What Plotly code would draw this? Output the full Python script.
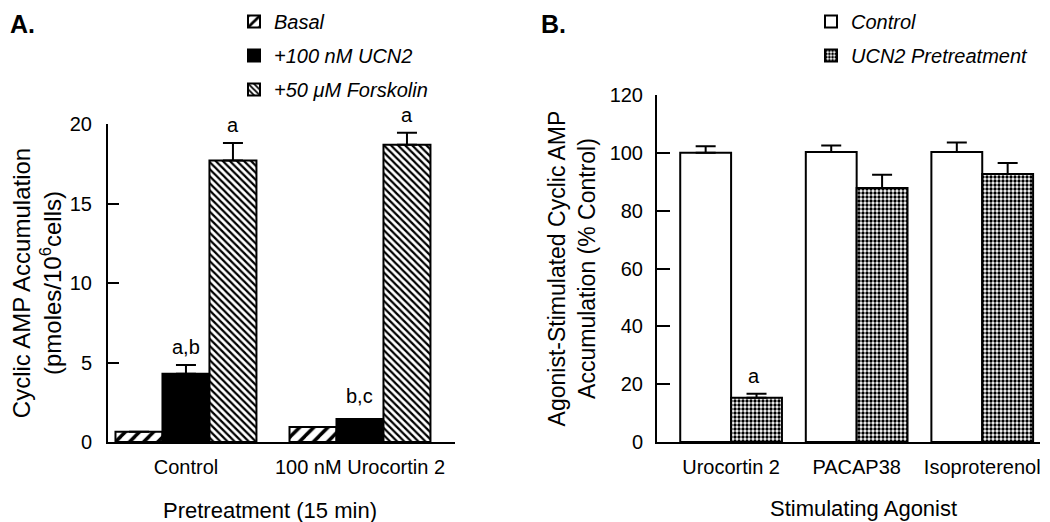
import plotly.graph_objects as go

# ---------------- Data ----------------
# Panel A
pretreat = ["Control", "100 nM Urocortin 2"]
basal = [0.65, 0.95]
basal_err = [0.0, 0.0]
ucn2 = [4.3, 1.45]
ucn2_err = [0.55, 0.0]
forsk = [17.7, 18.7]
forsk_err = [1.1, 0.75]
labels_a = [("a,b", "Control", "ucn2"), ("a", "Control", "forsk"),
            ("b,c", "100 nM Urocortin 2", "ucn2"), ("a", "100 nM Urocortin 2", "forsk")]

# Panel B
agonists = ["Urocortin 2", "PACAP38", "Isoproterenol"]
ctrl = [100.0, 100.3, 100.3]
ctrl_err = [2.3, 2.2, 3.3]
pre = [15.3, 87.8, 92.7]
pre_err = [1.4, 4.6, 3.8]
labels_b = [("a", "Urocortin 2")]

FONT = "Liberation Sans, Arial, sans-serif"
OFF = 8                      # page body margin of the browser
W, H = 1050 - OFF, 522 - OFF


def px(x):
    """screen x pixel -> paper fraction"""
    return (x - OFF) / W


def py(y):
    """screen y pixel -> paper fraction"""
    return 1 - (y - OFF) / H


fig = go.Figure()


def up_err(e):
    return dict(type="data", array=e, arrayminus=[0] * len(e), symmetric=False,
                color="black", thickness=2, width=10, visible=True)


line = dict(color="black", width=2)

fig.add_trace(go.Bar(x=pretreat, y=basal, name="Basal", xaxis="x", yaxis="y",
                     marker=dict(color="white", line=line,
                                 pattern=dict(shape="/", fgcolor="black", bgcolor="white",
                                              size=10, solidity=0.35)),
                     error_y=up_err(basal_err), legend="legend", legendgroup="a1"))
fig.add_trace(go.Bar(x=pretreat, y=ucn2, name="+100 nM UCN2", xaxis="x", yaxis="y",
                     marker=dict(color="black", line=line),
                     error_y=up_err(ucn2_err), legend="legend", legendgroup="a2"))
fig.add_trace(go.Bar(x=pretreat, y=forsk, name="+50 \u03bcM Forskolin", xaxis="x", yaxis="y",
                     marker=dict(color="white", line=line,
                                 pattern=dict(shape="\\", fgcolor="black", bgcolor="white",
                                              size=5, solidity=0.45)),
                     error_y=up_err(forsk_err), legend="legend", legendgroup="a3"))

fig.add_trace(go.Bar(x=agonists, y=ctrl, name="Control", xaxis="x2", yaxis="y2",
                     marker=dict(color="white", line=line),
                     error_y=up_err(ctrl_err), legend="legend2", legendgroup="b1"))
fig.add_trace(go.Bar(x=agonists, y=pre, name="UCN2 Pretreatment", xaxis="x2", yaxis="y2",
                     marker=dict(color="white", line=line,
                                 pattern=dict(shape=".", fgcolor="black", bgcolor="white",
                                              size=4, solidity=0.55)),
                     error_y=up_err(pre_err), legend="legend2", legendgroup="b2"))

# annotations above bars
annots = []
vals_a = {"ucn2": (ucn2, ucn2_err, 0), "forsk": (forsk, forsk_err, 47)}
for txt, cat, ser in labels_a:
    v, e, xs = vals_a[ser]
    i = pretreat.index(cat)
    annots.append(dict(x=cat, y=v[i] + e[i], xref="x", yref="y", text=txt, showarrow=False,
                       xshift=xs, yshift=5 if e[i] > 0 else 10, yanchor="bottom",
                       font=dict(family=FONT, size=20, color="black")))
for txt, cat in labels_b:
    i = agonists.index(cat)
    annots.append(dict(x=cat, y=pre[i] + pre_err[i], xref="x2", yref="y2", text=txt,
                       showarrow=False, xshift=23, yshift=5, yanchor="bottom",
                       font=dict(family=FONT, size=20, color="black")))

annots.append(dict(x=0, y=1, xref="paper", yref="paper", text="<b>A.</b>",
                   showarrow=False, xanchor="left", yanchor="top",
                   font=dict(family=FONT, size=25, color="black")))
annots.append(dict(x=px(539), y=1, xref="paper", yref="paper", text="<b>B.</b>",
                   showarrow=False, xanchor="left", yanchor="top",
                   font=dict(family=FONT, size=25, color="black")))
# x-axis titles
annots.append(dict(x=px(270), y=py(510), xref="paper", yref="paper",
                   text="Pretreatment (15 min)", showarrow=False, xanchor="center", yanchor="middle",
                   font=dict(family=FONT, size=22, color="black")))
annots.append(dict(x=px(863), y=py(508), xref="paper", yref="paper",
                   text="Stimulating Agonist", showarrow=False, xanchor="center", yanchor="middle",
                   font=dict(family=FONT, size=22, color="black")))

axis_common = dict(showline=True, linecolor="black", linewidth=2, showgrid=False,
                   zeroline=False, automargin=False, tickfont=dict(family=FONT, size=20, color="black"))

leg_font = dict(family=FONT, size=20, style="italic", color="black")

fig.update_layout(
    width=W, height=H,
    margin=dict(l=0, r=0, t=0, b=0, autoexpand=False),
    paper_bgcolor="white", plot_bgcolor="white",
    template="none",
    barmode="group",
    bargap=0.19, bargroupgap=0,
    font=dict(family=FONT, color="black"),
    xaxis=dict(domain=[px(108), px(455)], anchor="y", range=[-0.448, 1.546], ticks="",
               ticklabelstandoff=6, ticklabeloverflow="allow", **axis_common),
    yaxis=dict(domain=[py(442), py(124)], anchor="x", range=[0, 20],
               tickvals=[0, 5, 10, 15, 20], ticks="inside", ticklen=11, tickwidth=2,
               tickcolor="black", ticklabelstandoff=10,
               title=dict(text="Cyclic AMP Accumulation<br>(pmoles/10<sup>6</sup>cells)",
                          font=dict(family=FONT, size=24), standoff=22),
               **axis_common),
    xaxis2=dict(domain=[px(657), px(1040)], anchor="y2", range=[-0.59, 2.46], ticks="",
                ticklabelstandoff=6, ticklabeloverflow="allow", **axis_common),
    yaxis2=dict(domain=[py(442), py(95)], anchor="x2", range=[0, 120],
                tickvals=[0, 20, 40, 60, 80, 100, 120], ticks="inside", ticklen=13, tickwidth=2,
                tickcolor="black", ticklabelstandoff=8,
                title=dict(text="Agonist-Stimulated Cyclic AMP<br>Accumulation (% Control)",
                           font=dict(family=FONT, size=23), standoff=8),
                **axis_common),
    legend=dict(x=px(234), y=1 + 6 / H, xanchor="left", yanchor="top",
                font=leg_font, bgcolor="rgba(0,0,0,0)", tracegroupgap=5, traceorder="grouped"),
    legend2=dict(x=px(811), y=1 + 6 / H, xanchor="left", yanchor="top",
                 font=leg_font, bgcolor="rgba(0,0,0,0)", tracegroupgap=5, traceorder="grouped"),
    annotations=annots,
    showlegend=True,
)

fig.write_html("out.html")
